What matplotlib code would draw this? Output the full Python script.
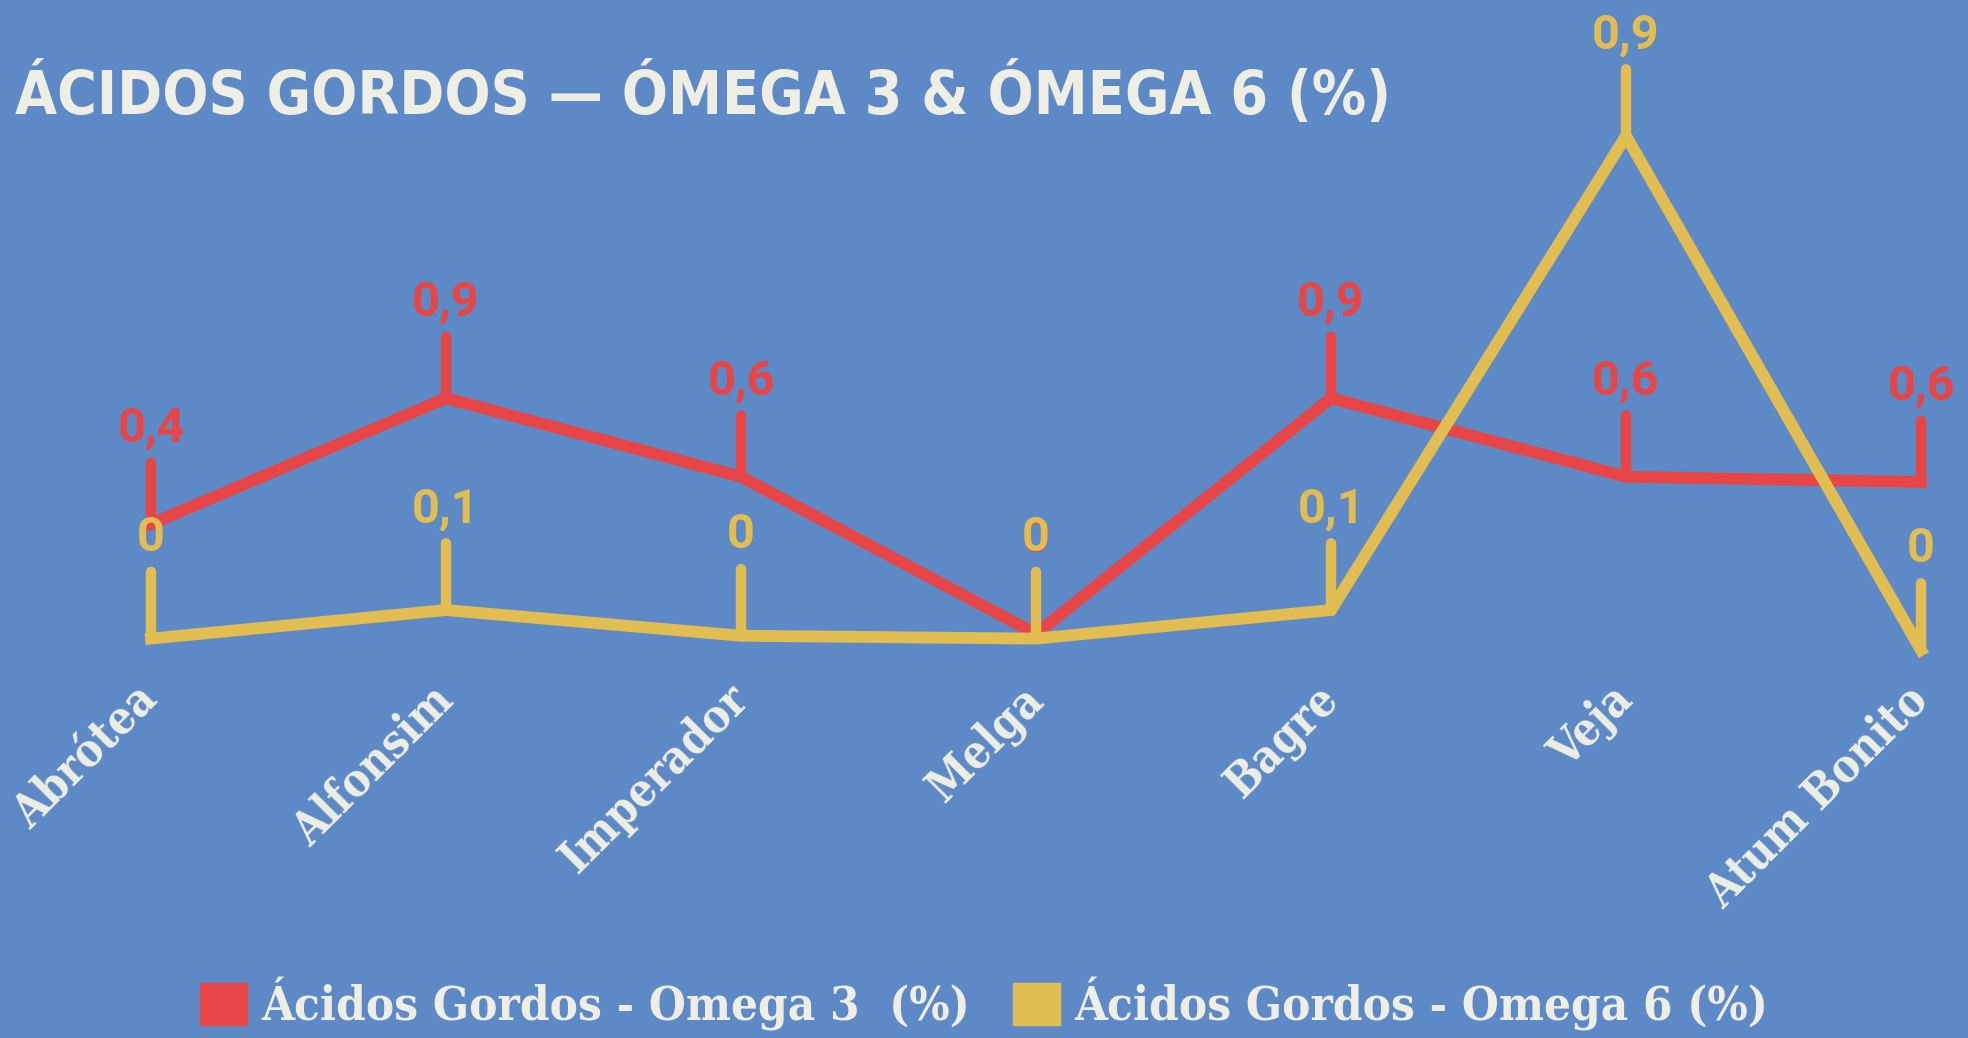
import matplotlib
matplotlib.use("Agg")
from matplotlib import pyplot as plt
from matplotlib.patches import Patch
from matplotlib.font_manager import FontProperties

# dados
peixes = ["Abrótea", "Alfonsim", "Imperador", "Melga", "Bagre", "Veja", "Atum Bonito"]
omega3 = [0.42, 0.9, 0.6, 0.0, 0.9, 0.6, 0.58]
omega6 = [0.02, 0.07, 0.025, 0.02, 0.07, 0.9, 0.0]
titulo = "ÁCIDOS GORDOS — ÓMEGA 3 & ÓMEGA 6 (%)"
leg3 = "Ácidos Gordos - Omega 3  (%)"
leg6 = "Ácidos Gordos - Omega 6 (%)"

fundo = "#5D8AC6"
vermelho = "#E84646"
amarelo = "#E2BE52"
branco = "#EEEEE4"

plt.rcParams['font.family'] = ['Roboto', 'DejaVu Sans']

# fontes condensadas se existirem
f_titulo = FontProperties(family='DejaVu Sans', stretch='condensed', weight='bold')
f_serif = FontProperties(family='DejaVu Serif', stretch='condensed', weight='bold', size=33)
f_leg = FontProperties(family='DejaVu Serif', stretch='condensed', weight='bold', size=34)

W, H = 1968, 1038
fig = plt.figure(figsize=(W / 100, H / 100), dpi=100, facecolor=fundo)
# eixo: de y=100px a y=690px
ax = fig.add_axes([0, 1 - 690 / H, 1, 590 / H])
ax.set_facecolor("none")
ax2 = ax.twinx()
ax2.set_facecolor("none")

x = list(range(len(peixes)))
ax.set_xlim(-151 / 295, (W - 151) / 295)
ax.set_ylim(-0.214, 2.038)
ax2.set_ylim(-0.070, 0.963)

ax.plot(x, omega3, color=vermelho, lw=8.5, solid_joinstyle='miter', zorder=2, clip_on=False)
ax2.plot(x, omega6, color=amarelo, lw=8.5, solid_joinstyle='miter', zorder=3, clip_on=False)


def fmt(v):
    s = f"{v:.1f}".replace('.', ',')
    if s == "0,0":
        s = "0"
    return s


def pinos(eixo, vals, cor, comp):
    for xi, v in zip(x, vals):
        eixo.annotate("", xy=(xi, v), xytext=(0, comp), textcoords='offset points',
                      arrowprops=dict(arrowstyle='-', lw=7.5, color=cor, shrinkA=0, shrinkB=0),
                      annotation_clip=False)
        eixo.annotate(fmt(v), xy=(xi, v), xytext=(0, comp + 8), textcoords='offset points',
                      ha='center', va='bottom', color=cor, fontsize=35, fontweight='bold',
                      annotation_clip=False)


pinos(ax, omega3, vermelho, 44)
pinos(ax2, omega6, amarelo, 48)

for a in (ax, ax2):
    for s in a.spines.values():
        s.set_visible(False)
    a.set_yticks([])
    a.tick_params(length=0)

ax.set_xticks(x)
ax.set_xticklabels(peixes, rotation=45, ha='right', va='center', rotation_mode='anchor',
                   color=branco, fontproperties=f_serif)
ax.tick_params(axis='x', pad=2)

tit = fig.text(1391 / W, 1 - 95 / H, titulo, ha='right', va='center', color=branco,
               fontproperties=f_titulo)
tit.set_fontsize(80)
# ajustar o tamanho do título para caber na largura
fig.canvas.draw()
larg = tit.get_window_extent().width
tit.set_fontsize(80 * 1375 / larg)

handles = [Patch(color=vermelho, label=leg3), Patch(color=amarelo, label=leg6)]
leg = fig.legend(handles=handles, loc='center', bbox_to_anchor=(0.5, 1 - 1004 / H), ncol=2,
                 frameon=False, handlelength=1.0, handleheight=1.0, handletextpad=0.3,
                 columnspacing=0.9, prop=f_leg)
for t in leg.get_texts():
    t.set_color(branco)

plt.savefig("out.png", dpi=100, facecolor=fundo)
